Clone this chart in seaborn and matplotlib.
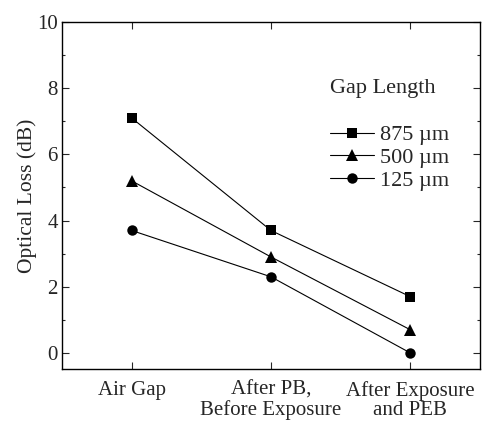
import matplotlib
matplotlib.use("Agg")
import matplotlib.pyplot as plt
import seaborn as sns
import pandas as pd
from matplotlib.ticker import MultipleLocator

stages = ["Air Gap", "After PB,\nBefore Exposure", "After Exposure\nand PEB"]
gap_labels = ["875 \u00b5m", "500 \u00b5m", "125 \u00b5m"]
loss_875 = [7.1, 3.7, 1.7]
loss_500 = [5.2, 2.9, 0.7]
loss_125 = [3.7, 2.3, 0.0]

rows = []
for lab, vals in zip(gap_labels, [loss_875, loss_500, loss_125]):
    for s, v in zip(stages, vals):
        rows.append({"Stage": s, "Loss": v, "Gap": lab})
df = pd.DataFrame(rows)

sns.set_theme(style="ticks")
plt.rcParams["font.family"] = ["Liberation Serif", "DejaVu Serif"]

fig = plt.figure(figsize=(4.91, 4.23), dpi=100)
ax = fig.add_axes([0.1263, 0.1265, 0.8513, 0.8215])

markers = {"875 \u00b5m": "s", "500 \u00b5m": "^", "125 \u00b5m": "o"}
sizes = {"875 \u00b5m": 7.5, "500 \u00b5m": 8, "125 \u00b5m": 7.5}
for lab in gap_labels:
    sub = df[df["Gap"] == lab]
    sns.lineplot(data=sub, x="Stage", y="Loss", ax=ax, color="black",
                 marker=markers[lab], markersize=sizes[lab], markeredgewidth=0,
                 markerfacecolor="black", linewidth=0.8, sort=False, label=lab)

ax.set_xlim(-0.5, 2.5)
ax.set_ylim(-0.5, 10)
ax.set_xticks(range(len(stages)))
ax.set_xticklabels(stages, fontsize=15, linespacing=1.05)
ax.yaxis.set_major_locator(MultipleLocator(2))
ax.yaxis.set_minor_locator(MultipleLocator(1))
ax.set_ylabel("Optical Loss (dB)", fontsize=15.5, labelpad=0)
ax.set_xlabel("")
ax.tick_params(axis="both", which="major", direction="in", length=5, width=0.8,
               top=True, right=True)
ax.tick_params(axis="y", which="major", pad=3, labelsize=15)
ax.tick_params(axis="x", which="major", pad=8)
ax.tick_params(axis="y", which="minor", direction="in", length=2.5, width=0.8,
               left=True, right=True)
for sp in ax.spines.values():
    sp.set_linewidth(1.0)
    sp.set_color("black")

leg = ax.legend(loc="upper left", bbox_to_anchor=(0.641, 0.704), frameon=False,
                borderaxespad=0, borderpad=0, handlelength=1.98, handletextpad=0.27,
                labelspacing=0.1, fontsize=16)
ax.text(0.641, 0.809, "Gap Length", transform=ax.transAxes, fontsize=16,
        ha="left", va="center")

fig.savefig("out.png", dpi=100)
